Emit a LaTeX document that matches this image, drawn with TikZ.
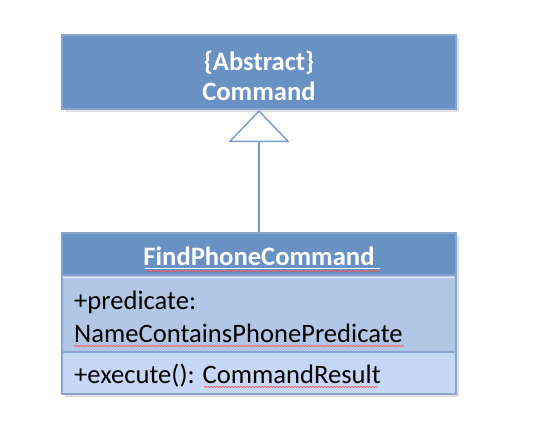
\documentclass[tikz,border=0pt]{standalone}
\usepackage{fontspec}
\setmainfont{Carlito}
\usepackage{tikz}
\usetikzlibrary{arrows.meta,decorations.pathmorphing}
\definecolor{headblue}{RGB}{106,145,196}
\definecolor{attrblue}{RGB}{178,199,230}
\definecolor{methblue}{RGB}{198,216,245}
\definecolor{edgeblue}{RGB}{138,164,208}
\definecolor{lineblue}{RGB}{122,152,200}
\def\abstractbox{(62,35) rectangle (456,109)}
\def\headbox{(62,233) rectangle (456,275)}
\def\attrbox{(62,275) rectangle (456,352)}
\def\methbox{(62,352) rectangle (456,394)}
\tikzset{
    umlfont/.style={font=\fontsize{26.6}{33}\selectfont},
    umlbold/.style={font=\fontsize{26.6}{30}\selectfont\bfseries,text=white},
    shadowed/.style={fill=black!12},
    squiggle/.style={red!70,line width=0.6pt,decorate,
        decoration={snake,amplitude=0.7pt,segment length=3pt}}
}
\begin{document}
\begin{tikzpicture}[x=1pt,y=-1pt]
\useasboundingbox (0,0) rectangle (549,445);
% shadows
\fill[shadowed] (65,38) rectangle (459,112);
\fill[shadowed] (65,236) rectangle (459,397);
% boxes
\fill[headblue] \abstractbox;
\fill[headblue] \headbox;
\fill[attrblue] \attrbox;
\fill[methblue] \methbox;
\draw[edgeblue,line width=1.2pt] \abstractbox;
\draw[edgeblue,line width=1.2pt] \headbox;
\draw[edgeblue,line width=1.2pt] \attrbox;
\draw[edgeblue,line width=1.2pt] \methbox;
\draw[white!70!attrblue,line width=1pt] (63,277) -- (455,277);
% texts
\node[umlbold,anchor=base,inner sep=0pt] (abstract) at (259,70) {\{Abstract\}};
\node[umlbold,anchor=base,inner sep=0pt] (command) at (259,100) {Command};
\node[umlbold,anchor=base,inner sep=0pt] (findphone) at (259,265) {FindPhoneCommand};
\node[umlfont,anchor=base west,inner sep=0pt] (predicate) at (74,309) {+predicate:};
\node[umlfont,anchor=base west,inner sep=0pt] (predtype) at (74,342) {NameContainsPhonePredicate};
\node[umlfont,anchor=base west,inner sep=0pt] (execute) at (74,383) {+execute(): CommandResult};
% underlines
\draw[white,line width=1pt] (145,268) -- (380,268);
\draw[squiggle] (145,271) -- (380,271);
\draw[squiggle] (74,346) -- (404,346);
\draw[squiggle] (204,387) -- (378,387);
% generalisation
\coordinate (classtop) at (259,233);
\coordinate (abstractbottom) at (259,110);
\draw[lineblue,line width=2.6pt,-{Triangle[open,length=32pt,width=61pt,fill=white,line width=1.4pt]}] (classtop) -- (abstractbottom);
\end{tikzpicture}
\end{document}
